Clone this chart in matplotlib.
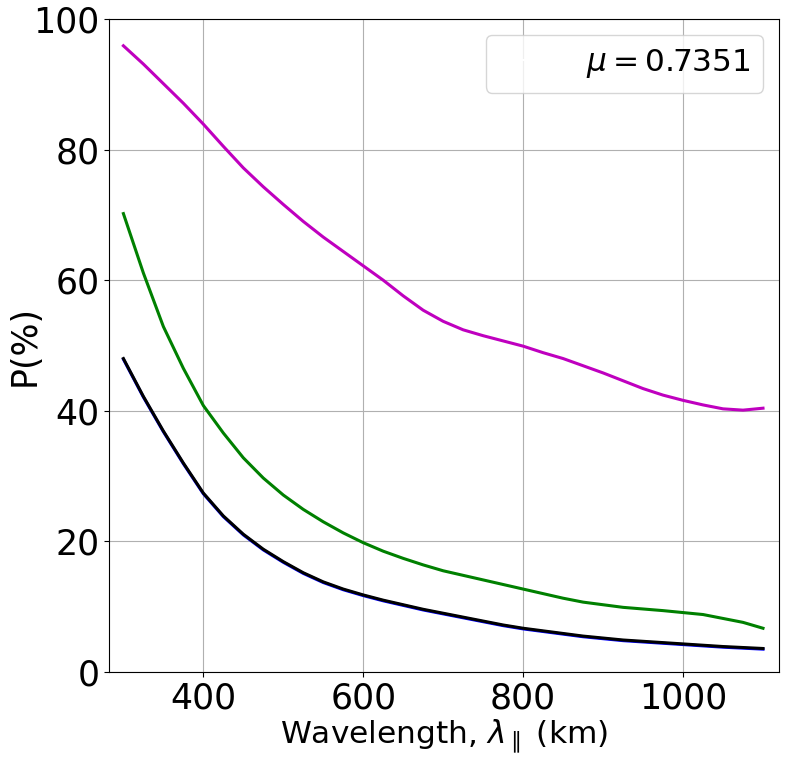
import matplotlib
matplotlib.use("Agg")
import matplotlib.pyplot as plt

wavelength = [300, 325, 350, 375, 400, 425, 450, 475, 500, 525, 550, 575, 600, 625, 650, 675, 700,
              725, 750, 775, 800, 825, 850, 875, 900, 925, 950, 975, 1000, 1025, 1050, 1075, 1100]
p_magenta = [95.9, 93.1, 90.1, 87.1, 83.9, 80.5, 77.2, 74.3, 71.6, 69.0, 66.6, 64.4, 62.2, 60.0, 57.6, 55.4, 53.7,
             52.4, 51.5, 50.7, 49.9, 48.9, 48.0, 46.9, 45.8, 44.6, 43.4, 42.4, 41.6, 40.9, 40.3, 40.1, 40.4]
p_green = [70.2, 61.1, 52.9, 46.5, 40.8, 36.6, 32.8, 29.7, 27.1, 24.9, 23.0, 21.3, 19.8, 18.5, 17.4, 16.4, 15.5,
           14.8, 14.1, 13.4, 12.7, 12.0, 11.3, 10.7, 10.3, 9.9, 9.65, 9.4, 9.1, 8.8, 8.2, 7.6, 6.7]
p_black = [48.0, 42.2, 36.9, 32.0, 27.4, 23.9, 21.1, 18.8, 16.9, 15.2, 13.8, 12.7, 11.8, 11.0, 10.3, 9.6, 9.0,
           8.4, 7.8, 7.2, 6.7, 6.3, 5.9, 5.5, 5.2, 4.9, 4.7, 4.5, 4.3, 4.1, 3.9, 3.75, 3.6]
p_blue = [47.9, 42.1, 36.8, 31.9, 27.3, 23.8, 21.0, 18.7, 16.8, 15.1, 13.7, 12.6, 11.7, 10.9, 10.2, 9.5, 8.9,
          8.3, 7.7, 7.1, 6.6, 6.2, 5.8, 5.4, 5.1, 4.8, 4.6, 4.4, 4.2, 4.0, 3.8, 3.65, 3.5]
legend_label = r'$\mu = 0.7351$'

tick_fs = 25
label_fs = 22.5
fig = plt.figure(figsize=(7.85, 7.58), dpi=100)
ax = fig.add_axes([109/785, 86/758, (779-109)/785, (672-19)/758])
ax.plot(wavelength, p_magenta, color='m', lw=2.2)
ax.plot(wavelength, p_green, color='g', lw=2.2)
ax.plot(wavelength, p_blue, color='b', lw=2.2)
ax.plot(wavelength, p_black, color='k', lw=2.2)
ax.plot([], [], color='white', label=legend_label)
ax.set_xlim(282, 1120)
ax.set_ylim(0, 100)
ax.set_xticks([400, 600, 800, 1000])
ax.set_yticks([0, 20, 40, 60, 80, 100])
ax.tick_params(labelsize=tick_fs)
ax.grid(True, color='#b0b0b0', lw=0.8)
ax.set_xlabel(r'Wavelength, $\lambda_\parallel$ (km)', fontsize=label_fs, labelpad=1)
ax.set_ylabel('P(%)', fontsize=25)
ax.yaxis.set_label_coords(-0.1, 0.5)
ax.legend(loc='upper right', fontsize=label_fs)
fig.savefig('out.png', dpi=100)
